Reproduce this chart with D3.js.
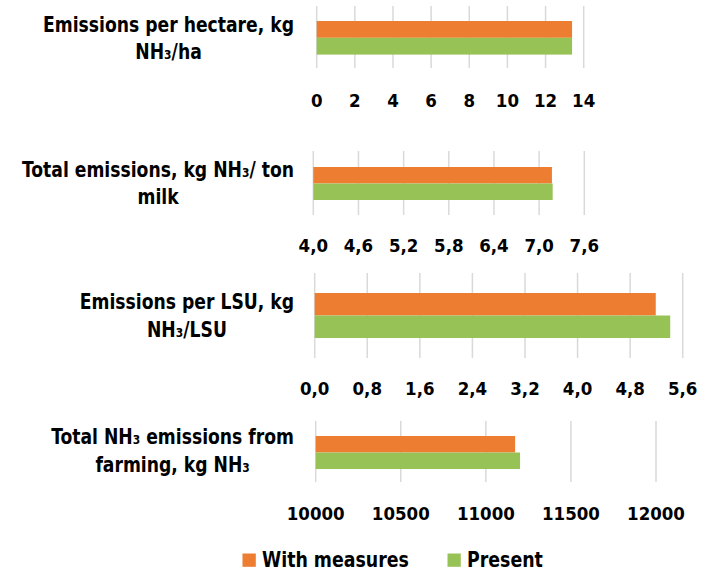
<!DOCTYPE html>
<html>
<head>
<meta charset="utf-8">
<script src="https://cdn.jsdelivr.net/npm/d3@7"></script>
<style>
  html, body { margin: 0; padding: 0; background: #fff; }
  svg text { font-family: "Liberation Sans Narrow", "DejaVu Sans Condensed", "Open Sans", sans-serif; font-weight: bold; fill: #000; }
</style>
</head>
<body>
<svg id="chart" width="714" height="576"></svg>
<script>
// Ammonia emissions from a dairy farm: present situation vs. with measures
const seriesNames = ["With measures", "Present"];
const seriesColors = ["#ed7d31", "#97c356"];

const panelLabels = [
  ["Emissions per hectare, kg", "NH₃/ha"],
  ["Total emissions, kg NH₃/ ton", "milk"],
  ["Emissions per LSU, kg", "NH₃/LSU"],
  ["Total NH₃ emissions from", "farming, kg NH₃"]
];

const withMeasures = [13.39, 7.17, 5.19, 11172];
const present      = [13.39, 7.18, 5.41, 11201];

const axisMin  = [0, 4.0, 0.0, 10000];
const axisMax  = [14, 7.6, 5.6, 12000];
const axisStep = [2, 0.6, 0.8, 500];
const tickDecimals = [0, 1, 1, 0];

// Layout of each small panel
const panels = [
  { x0: 316.7, x1: 583.7, gTop: 6,   gBot: 68,  barTop: 21,  barH: 16.8, tickY: 106.5, labelY: 31.5 },
  { x0: 313.3, x1: 584.3, gTop: 151, gBot: 215, barTop: 167, barH: 16.5, tickY: 252,   labelY: 176.5 },
  { x0: 314.7, x1: 682.7, gTop: 273, gBot: 358, barTop: 293, barH: 22.5, tickY: 395,   labelY: 309 },
  { x0: 315.7, x1: 656,   gTop: 421, gBot: 482, barTop: 436, barH: 16.5, tickY: 520,   labelY: 444 }
];

const svg = d3.select("#chart");
const fmtComma = (v, d) => v.toFixed(d).replace(".", ",");

// squeeze a text horizontally to imitate a condensed face
function condense(sel, factor) {
  sel.each(function () {
    const w = this.getComputedTextLength();
    d3.select(this).attr("textLength", w * factor).attr("lengthAdjust", "spacingAndGlyphs");
  });
}

panels.forEach((p, i) => {
  const g = svg.append("g");
  const x = d3.scaleLinear().domain([axisMin[i], axisMax[i]]).range([p.x0, p.x1]);
  const ticks = d3.range(axisMin[i], axisMax[i] + axisStep[i] / 2, axisStep[i]);

  // vertical gridlines
  g.selectAll("line.grid").data(ticks).join("line")
    .attr("class", "grid")
    .attr("x1", d => x(d)).attr("x2", d => x(d))
    .attr("y1", p.gTop).attr("y2", p.gBot)
    .attr("stroke", "#d9d9d9").attr("stroke-width", 1.5);

  // bars
  const y = d3.scaleBand().domain(seriesNames).range([p.barTop, p.barTop + 2 * p.barH]).padding(0);
  const vals = [withMeasures[i], present[i]];
  g.selectAll("rect.bar").data(seriesNames).join("rect")
    .attr("class", "bar")
    .attr("x", x(axisMin[i]))
    .attr("y", d => y(d))
    .attr("width", (d, k) => x(vals[k]) - x(axisMin[i]))
    .attr("height", y.bandwidth())
    .attr("fill", (d, k) => seriesColors[k]);

  // tick labels
  g.selectAll("text.tick").data(ticks).join("text")
    .attr("class", "tick")
    .attr("x", d => x(d)).attr("y", p.tickY)
    .attr("text-anchor", "middle")
    .attr("font-size", 18.5)
    .text(d => fmtComma(d, tickDecimals[i]));

  // category label, two centred lines ending near the plot
  const lab = g.append("g");
  const lines = lab.selectAll("text").data(panelLabels[i]).join("text")
    .attr("font-size", 21)
    .attr("text-anchor", "middle")
    .attr("y", (d, k) => p.labelY + k * 27.5)
    .text(d => d);
  condense(lines, 0.91);
  let maxW = 0;
  lines.each(function () { maxW = Math.max(maxW, +this.getAttribute("textLength")); });
  lines.attr("x", 294 - maxW / 2);
});

// legend
const legend = svg.append("g");
const legendX = [242.5, 447.5];
seriesNames.forEach((name, k) => {
  legend.append("rect")
    .attr("x", legendX[k]).attr("y", 553.5)
    .attr("width", 13.3).attr("height", 13.3)
    .attr("fill", seriesColors[k]);
  const t = legend.append("text")
    .attr("x", legendX[k] + 19.5).attr("y", 567)
    .attr("font-size", 21)
    .text(name);
  condense(t, 0.92);
});
</script>
</body>
</html>
